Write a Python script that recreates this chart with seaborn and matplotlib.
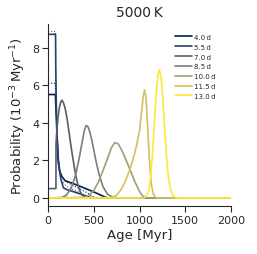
import numpy as np
import pandas as pd
import matplotlib
matplotlib.use("Agg")
import matplotlib.pyplot as plt
import seaborn as sns

# periods shown in the legend
periods = ["4.0\u2009d", "5.5\u2009d", "7.0\u2009d", "8.5\u2009d", "10.0\u2009d", "11.5\u2009d", "13.0\u2009d"]

# age [Myr] / probability [1e-3 / Myr]
age_40 = [0, 80, 90, 100, 110, 125, 150, 186, 300, 400, 500, 600, 645, 2000]
prob_40 = [5.5, 5.5, 4.3, 3.0, 2.0, 1.45, 1.15, 0.92, 0.72, 0.52, 0.32, 0.1, 0.0, 0.0]

age_55 = [0, 82, 84, 90, 100, 115, 140, 167, 200, 300, 400, 460, 500, 2000]
prob_55 = [8.7, 8.7, 7.0, 5.0, 3.2, 1.8, 1.0, 0.55, 0.45, 0.3, 0.13, 0.02, 0.0, 0.0]

age_70 = [0, 86, 87, 95, 105, 120, 135, 150, 165, 185, 205, 225, 245, 265, 285,
          305, 325, 345, 370, 400, 450, 2000]
prob_70 = [0.5, 0.5, 2.9, 3.5, 4.1, 4.7, 5.05, 5.2, 5.1, 4.8, 4.3, 3.65, 2.95, 2.3, 1.7,
           1.15, 0.72, 0.4, 0.17, 0.05, 0.0, 0.0]

age_85 = [0, 150, 200, 250, 300, 340, 370, 395, 415, 435, 460, 490, 520, 555, 600, 650, 700, 750, 2000]
prob_85 = [0, 0.02, 0.15, 0.5, 1.2, 2.1, 2.9, 3.55, 3.85, 3.8, 3.45, 2.8, 2.05, 1.3, 0.6, 0.2, 0.05, 0.0, 0.0]

age_100 = [0, 400, 450, 500, 550, 600, 650, 695, 730, 765, 800, 850, 900, 950, 1000, 1030, 1060, 1100, 2000]
prob_100 = [0, 0.03, 0.15, 0.4, 0.85, 1.45, 2.1, 2.7, 2.95, 2.88, 2.6, 2.05, 1.45, 0.85, 0.35, 0.12, 0.03, 0.0, 0.0]

age_115 = [0, 700, 750, 800, 850, 900, 940, 970, 1000, 1020, 1040, 1055, 1070, 1085, 1100, 1115,
           1130, 1150, 1170, 1200, 2000]
prob_115 = [0, 0.02, 0.15, 0.45, 0.95, 1.6, 2.25, 2.85, 3.6, 4.5, 5.4, 5.75, 5.35, 4.1, 2.7, 1.5,
            0.7, 0.22, 0.05, 0.0, 0.0]

age_130 = [0, 1050, 1080, 1100, 1120, 1140, 1160, 1180, 1200, 1217, 1235, 1255, 1275, 1295,
           1315, 1340, 1370, 1400, 1450, 2000]
prob_130 = [0, 0.0, 0.12, 0.4, 1.05, 2.25, 3.85, 5.4, 6.5, 6.82, 6.45, 5.2, 3.65, 2.2,
            1.1, 0.4, 0.1, 0.02, 0.0, 0.0]

ages = [age_40, age_55, age_70, age_85, age_100, age_115, age_130]
probs = [prob_40, prob_55, prob_70, prob_85, prob_100, prob_115, prob_130]

# dotted comparison curves for the youngest periods
dot_age_a = [0, 78, 90, 100, 115, 140, 200, 300, 400, 450, 500, 550]
dot_prob_a = [6.1, 6.1, 4.5, 3.2, 2.0, 1.2, 0.85, 0.6, 0.35, 0.2, 0.05, 0.0]
dot_age_b = [0, 80, 85, 95, 110, 140, 200, 300, 400, 500, 550]
dot_prob_b = [8.85, 8.85, 6.0, 4.0, 2.2, 1.0, 0.62, 0.38, 0.16, 0.02, 0.0]

df = pd.concat([pd.DataFrame({"Age": a, "Prob": p, "Period": lab})
                for a, p, lab in zip(ages, probs, periods)], ignore_index=True)

sns.set_style("ticks")
plt.rcParams["font.family"] = ["DejaVu Sans"]
# full cividis range, navy -> bright yellow
colors = [tuple(c) for c in plt.get_cmap("cividis")(np.linspace(0, 1, len(periods)))]

fig = plt.figure(figsize=(2.57, 2.55), dpi=100)
ax = fig.add_axes([0.187, 0.188, 0.712, 0.714])

ax.plot(dot_age_b, dot_prob_b, ls=":", lw=0.8, color=colors[2])
ax.plot(dot_age_a, dot_prob_a, ls=":", lw=0.8, color=colors[0])

sns.lineplot(data=df, x="Age", y="Prob", hue="Period", palette=colors,
             estimator=None, sort=False, lw=1.2, ax=ax)

ax.set_xlim(0, 2000)
ax.set_ylim(-0.43, 9.25)
ax.set_xticks([0, 500, 1000, 1500, 2000])
ax.set_yticks([0, 2, 4, 6, 8])
ax.tick_params(labelsize=8, length=4.3, width=0.8, pad=2)
for s in ["left", "bottom"]:
    ax.spines[s].set_linewidth(0.8)
sns.despine(ax=ax)

ax.set_xlabel("Age [Myr]", fontsize=9.5, labelpad=2)
ax.set_ylabel("Probability ($10^{-3}\\,$Myr$^{-1}$)", fontsize=9.5, labelpad=3)
ax.set_title("5000\u2009K", fontsize=10, pad=6)

ax.legend(frameon=False, fontsize=5, loc="upper left", bbox_to_anchor=(0.66, 0.98),
          handlelength=2.4, handletextpad=0.3, labelspacing=0.55, title=None)

fig.savefig("out.png", dpi=100)
